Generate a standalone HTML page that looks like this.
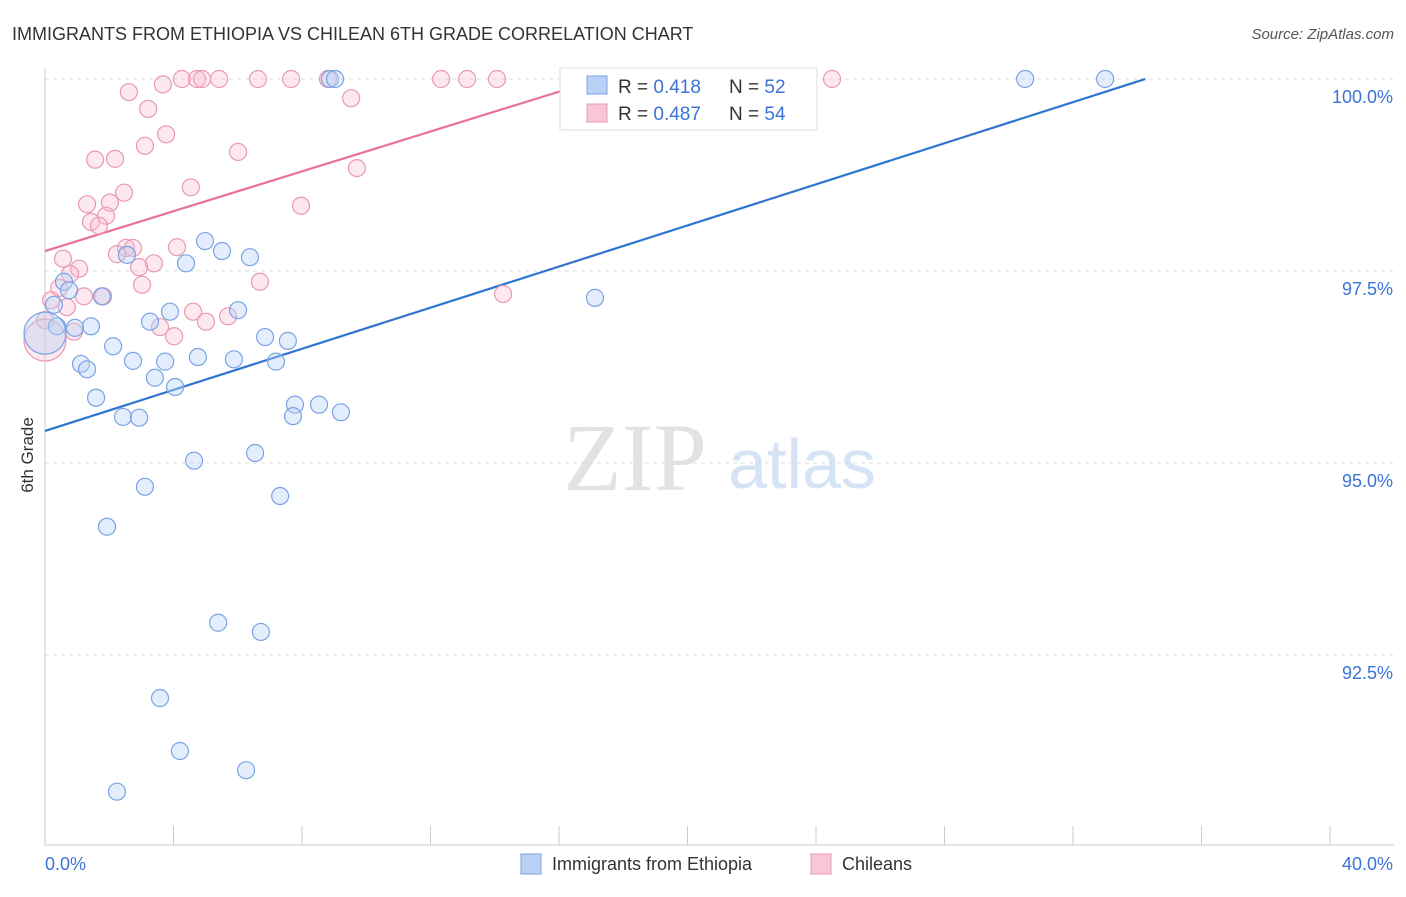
<!DOCTYPE html>
<html><head><meta charset="utf-8">
<style>
body{margin:0;background:#fff;font-family:"Liberation Sans",sans-serif;}
svg text{font-family:"Liberation Sans",sans-serif;}
</style></head>
<body>
<svg id="chart" width="1406" height="892" xmlns="http://www.w3.org/2000/svg">
<text x="12" y="40" font-size="18" fill="#333">IMMIGRANTS FROM ETHIOPIA VS CHILEAN 6TH GRADE CORRELATION CHART</text>
<text x="1394" y="39" font-size="15" fill="#555" text-anchor="end" font-style="italic">Source: ZipAtlas.com</text>
<text x="0" y="0" transform="translate(33,455) rotate(-90)" font-size="17" fill="#333" text-anchor="middle">6th Grade</text>
<g>
<text x="635" y="490" font-size="96" fill="#e2e2e2" text-anchor="middle" style="font-family:'Liberation Serif',serif">ZIP</text>
<text x="802" y="488" font-size="70" fill="#d5e3f5" text-anchor="middle">atlas</text>
</g>
<g id="grid"></g>
<g id="axes"></g>
<g id="lines"></g>
<g id="points"></g>
<g>
<rect x="560" y="68" width="257" height="62" fill="#fff" stroke="#ddd"/>
<rect x="587" y="76" width="20" height="18" fill="#b9d1f5" stroke="#7aa3e5"/>
<text x="618" y="93" font-size="19" fill="#333">R = <tspan fill="#3b73d6">0.418</tspan></text>
<text x="729" y="93" font-size="19" fill="#333">N = <tspan fill="#3b73d6">52</tspan></text>
<rect x="587" y="104" width="20" height="18" fill="#f9c6d6" stroke="#e899b4"/>
<text x="618" y="120" font-size="19" fill="#333">R = <tspan fill="#3b73d6">0.487</tspan></text>
<text x="729" y="120" font-size="19" fill="#333">N = <tspan fill="#3b73d6">54</tspan></text>
</g>
<g>
<rect x="521" y="854" width="20" height="20" fill="#b9d1f5" stroke="#7aa3e5"/>
<text x="552" y="870" font-size="18" fill="#333">Immigrants from Ethiopia</text>
<rect x="811" y="854" width="20" height="20" fill="#f9c6d6" stroke="#e899b4"/>
<text x="842" y="870" font-size="18" fill="#333">Chileans</text>
</g>
</svg>
<script>
const yTicks=[100,97.5,95,92.5];
const yTickLabels=["100.0%","97.5%","95.0%","92.5%"];
const xTickCount=10;
const blueX=[8.87,9.03,23.28,30.51,33.00,4.98,5.51,6.38,2.55,4.39,0.59,0.75,1.77,0.28,6.01,3.89,3.27,1.43,0.93,0.37,6.85,7.56,2.12,2.74,3.74,4.76,5.88,7.19,1.12,1.31,3.42,4.05,1.59,7.78,8.53,9.21,7.72,2.43,2.93,6.54,4.64,3.11,7.32,1.93,5.39,6.72,3.58,4.20,6.26,2.24,17.12,0];
const blueY=[100,100,100,100,100,97.89,97.76,97.68,97.71,97.60,97.36,97.25,97.17,97.06,96.99,96.97,96.84,96.78,96.76,96.78,96.64,96.59,96.52,96.33,96.32,96.38,96.35,96.32,96.29,96.22,96.11,95.99,95.85,95.76,95.76,95.66,95.61,95.60,95.59,95.13,95.03,94.69,94.57,94.17,92.92,92.80,91.94,91.25,91.00,90.72,97.15,96.69];
const pinkX=[3.67,4.26,4.73,4.89,5.42,6.63,7.66,8.81,12.33,13.14,14.07,24.50,2.61,9.53,3.21,3.77,3.11,6.01,1.56,2.18,9.71,4.54,2.46,1.31,2.02,7.97,1.90,1.43,1.68,2.52,2.74,4.11,2.24,0.56,3.39,2.93,1.06,0.78,6.69,3.02,0.44,1.21,1.81,14.26,0.19,0.68,4.61,5.70,5.01,0,3.58,4.02,0.90,0];
const pinkY=[99.93,100,100,100,100,100,100,100,100,100,100,100,99.83,99.75,99.61,99.28,99.13,99.05,98.95,98.96,98.84,98.59,98.52,98.37,98.39,98.35,98.22,98.14,98.09,97.80,97.80,97.81,97.72,97.66,97.60,97.55,97.53,97.46,97.36,97.32,97.28,97.17,97.17,97.20,97.12,97.03,96.97,96.91,96.84,96.86,96.77,96.65,96.71,96.60];
const blueTrend=[95.417,0.1338];
const pinkTrend=[97.76,0.1297];
const NS="http://www.w3.org/2000/svg";
function X(v){return 45+v/40*1285;}
function Y(v){return 79+(100-v)/2.5*192;}
function mk(tag,at,parent){const e=document.createElementNS(NS,tag);for(const k in at)e.setAttribute(k,at[k]);parent.appendChild(e);return e;}
const grid=document.getElementById('grid'),axes=document.getElementById('axes'),lines=document.getElementById('lines'),pts=document.getElementById('points');
yTicks.forEach((t,i)=>{
 const l=mk('line',{x1:45,x2:1394,y1:Y(t),y2:Y(t),stroke:'#ddd','stroke-dasharray':'4,4'},grid);
 
 
 const tx=mk('text',{x:1393,y:Y(t)+24,'font-size':18,fill:'#3b73d6','text-anchor':'end'},axes);
 tx.textContent=yTickLabels[i];
 
 
});
const ya=mk('line',{x1:45,x2:45,y1:68,y2:845,stroke:'#ccc'},axes);


const xa=mk('line',{x1:45,x2:1394,y1:845,y2:845,stroke:'#ccc'},axes);


for(let i=1;i<=xTickCount;i++){
 const t=mk('line',{x1:X(i*4),x2:X(i*4),y1:826,y2:845,stroke:'#ccc'},axes);
 
 
}
const xl0=mk('text',{x:45,y:870,'font-size':18,fill:'#3b73d6'},axes);xl0.textContent='0.0%';


const xl1=mk('text',{x:1393,y:870,'font-size':18,fill:'#3b73d6','text-anchor':'end'},axes);xl1.textContent='40.0%';


function drawPts(xs,ys,fill,stroke,name){
 xs.forEach((x,i)=>{
  const big=(x===0&&i===xs.length-1);
  const c=mk('circle',{cx:X(x),cy:Y(ys[i]),r:big?21:8.5,fill:fill,stroke:stroke,'stroke-width':1.2},pts);
  
  
 });
}
drawPts(pinkX,pinkY,'rgba(249,190,210,0.35)','#e899b4','chilean-point');
drawPts(blueX,blueY,'rgba(185,209,245,0.4)','#7aa3e5','ethiopia-point');
function trend(tr,col,name){
 const xe=(100-tr[0])/tr[1];
 const l=mk('line',{x1:X(0),y1:Y(tr[0]),x2:X(xe),y2:Y(100),stroke:col,'stroke-width':2.2},lines);
 
 
}
trend(blueTrend,'#2f74d0','ethiopia-trend-line');
trend(pinkTrend,'#e8709a','chilean-trend-line');
</script>
</body></html>
